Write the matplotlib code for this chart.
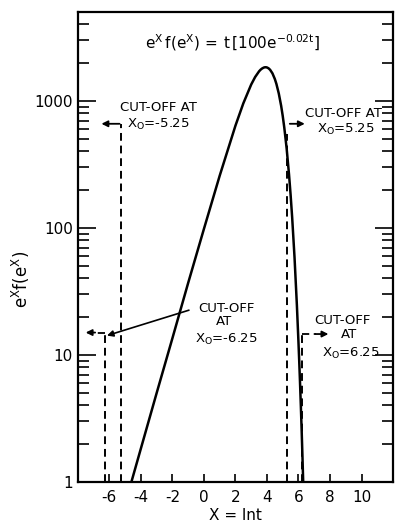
import numpy as np
import matplotlib
matplotlib.use('Agg')
import matplotlib.pyplot as plt
from matplotlib.ticker import LogLocator, NullFormatter, FixedLocator

# curve: x = ln t, y = e^x f(e^x)
x_vals = [-4.6, -4.0, -3.0, -2.0, -1.0, 0.0, 1.0, 2.0, 2.5, 3.0, 3.25, 3.5,
          3.6, 3.7, 3.8, 3.85, 3.91, 3.95, 4.0, 4.1, 4.2, 4.35, 4.5, 4.6,
          4.75, 4.9, 5.0, 5.1, 5.25, 5.4, 5.5, 5.6, 5.75, 5.9, 6.0, 6.05,
          6.1, 6.15, 6.2, 6.25, 6.3]
y_vals = [1.0, 1.83, 5.0, 13.5, 36.8, 98, 257, 637, 955, 1344, 1540, 1708,
          1761, 1801, 1828, 1836, 1839, 1838, 1832, 1805, 1757, 1646, 1487, 1360,
          1145, 916, 763, 617, 422, 264, 183, 121, 58.6, 24.6, 12.6, 8.8,
          6.0, 4.0, 2.6, 1.64, 1.0]

# cut-off markers (x position, top of dashed line)
cut_x = [-5.25, 5.25, -6.25, 6.25]
cut_top = [660, 550, 15, 14.6]

xticks = [-6, -4, -2, 0, 2, 4, 6, 8, 10]
xtick_labels = ['-6', '-4', '-2', '0', '2', '4', '6', '8', '10']
yticks = [1, 10, 100, 1000]
ytick_labels = ['1', '10', '100', '1000']

plt.rcParams['mathtext.fontset'] = 'dejavusans'

fig = plt.figure(figsize=(3.97, 5.25), dpi=100)
ax = fig.add_axes([0.196, 0.082, 0.794, 0.895])

ax.plot(x_vals, y_vals, color='black', linewidth=1.8)

dash = (0, (4, 2.5))
for cx, ct in zip(cut_x, cut_top):
    ax.plot([cx, cx], [1, ct], color='black', linewidth=1.4, linestyle=dash)

# arrows at the cut-offs
ax.annotate('', xy=(-6.5, 660), xytext=(-5.35, 660),
            arrowprops=dict(arrowstyle='-|>', color='black', lw=1.3,
                            mutation_scale=9, shrinkA=0, shrinkB=0))
ax.annotate('', xy=(6.4, 660), xytext=(5.45, 660),
            arrowprops=dict(arrowstyle='-|>', color='black', lw=1.3,
                            mutation_scale=9, shrinkA=0, shrinkB=0))
ax.plot([-6.25, -6.9], [15, 15], color='black', linewidth=1.3, linestyle=dash)
ax.annotate('', xy=(-7.5, 15), xytext=(-6.9, 15),
            arrowprops=dict(arrowstyle='-|>', color='black', lw=1.3,
                            mutation_scale=9, shrinkA=0, shrinkB=0))
ax.plot([6.25, 7.1], [14.6, 14.6], color='black', linewidth=1.3, linestyle=dash)
ax.annotate('', xy=(7.9, 14.6), xytext=(7.1, 14.6),
            arrowprops=dict(arrowstyle='-|>', color='black', lw=1.3,
                            mutation_scale=9, shrinkA=0, shrinkB=0))
ax.annotate('', xy=(-6.15, 14.2), xytext=(-0.95, 22.5),
            arrowprops=dict(arrowstyle='-|>', color='black', lw=1.2,
                            mutation_scale=9, shrinkA=0, shrinkB=0))

fs = 9.5
ax.text(-5.3, 880, 'CUT-OFF AT', fontsize=fs, ha='left', va='center')
ax.text(-4.85, 650, r'X$_\mathrm{O}$=-5.25', fontsize=fs, ha='left', va='center')
ax.text(6.4, 800, 'CUT-OFF AT', fontsize=fs, ha='left', va='center')
ax.text(7.2, 600, r'X$_\mathrm{O}$=5.25', fontsize=fs, ha='left', va='center')
ax.text(1.4, 23.4, 'CUT-OFF', fontsize=fs, ha='center', va='center')
ax.text(1.3, 18.4, 'AT', fontsize=fs, ha='center', va='center')
ax.text(1.4, 13.2, r'X$_\mathrm{O}$=-6.25', fontsize=fs, ha='center', va='center')
ax.text(8.8, 18.8, 'CUT-OFF', fontsize=fs, ha='center', va='center')
ax.text(9.2, 14.6, 'AT', fontsize=fs, ha='center', va='center')
ax.text(9.3, 10.2, r'X$_\mathrm{O}$=6.25', fontsize=fs, ha='center', va='center')

ax.text(0.49, 0.934, r'$\mathrm{e^{X}\,f(e^{X})\,=\,t\,\left[100e^{-0.02t}\right]}$',
        transform=ax.transAxes, fontsize=11, ha='center', va='center')

ax.set_yscale('log')
ax.set_xlim(-8, 12)
ax.set_ylim(1, 5000)

ax.xaxis.set_major_locator(FixedLocator(xticks))
ax.set_xticklabels(xtick_labels, fontsize=11)
ax.yaxis.set_major_locator(FixedLocator(yticks))
ax.set_yticklabels(ytick_labels, fontsize=11)
ax.yaxis.set_minor_locator(LogLocator(base=10, subs=np.arange(2, 10)))
ax.yaxis.set_minor_formatter(NullFormatter())

ax.tick_params(axis='both', which='both', direction='in', top=False, right=True,
               width=1.2, color='black')
ax.tick_params(axis='y', which='major', length=13)
ax.tick_params(axis='y', which='minor', length=8)
ax.tick_params(axis='x', which='major', length=6, pad=6)

for sp in ax.spines.values():
    sp.set_linewidth(1.6)

ax.set_xlabel('X = lnt', fontsize=11, labelpad=2)
ax.set_ylabel(r'$\mathrm{e^{X}f(e^{X})}$', fontsize=12)
ax.yaxis.set_label_coords(-0.145, 0.43)

fig.savefig('out.png', dpi=100)
